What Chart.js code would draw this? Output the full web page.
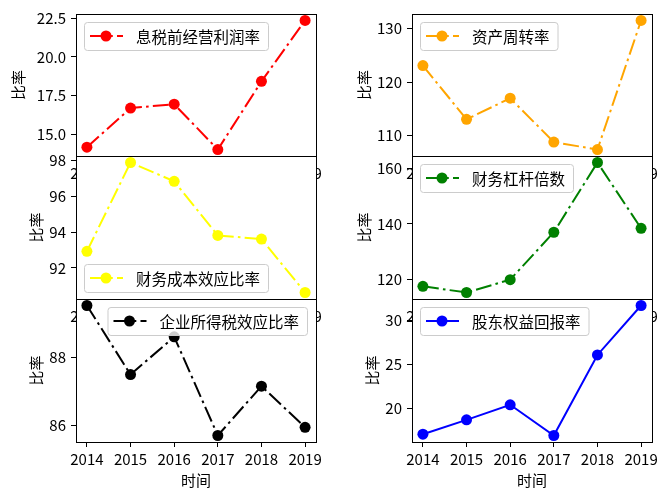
<!DOCTYPE html>
<html>
<head>
<meta charset="utf-8">
<script src="https://cdn.jsdelivr.net/npm/chart.js@4/dist/chart.umd.min.js"></script>
<style>
html,body{margin:0;padding:0;background:#fff;width:669px;height:500px;overflow:hidden}
canvas{position:absolute;left:0;top:0}
</style>
</head>
<body>
<canvas id="c0" width="669" height="500"></canvas>
<canvas id="c1" width="669" height="500"></canvas>
<canvas id="c2" width="669" height="500"></canvas>
<canvas id="c3" width="669" height="500"></canvas>
<canvas id="c4" width="669" height="500"></canvas>
<canvas id="c5" width="669" height="500"></canvas>
<script>
// ---- data ----
const years = [2014, 2015, 2016, 2017, 2018, 2019];
const ebitMargin        = [14.19, 16.71, 16.96, 14.04, 18.43, 22.35];
const assetTurnover     = [123.1, 113.05, 117.0, 108.8, 107.4, 131.55];
const financeCostEffect = [92.92, 97.89, 96.84, 93.81, 93.61, 90.62];
const leverage          = [117.6, 115.4, 120.0, 137.0, 162.0, 138.4];
const taxEffect         = [89.52, 87.49, 88.60, 85.70, 87.15, 85.94];
const roe               = [17.02, 18.66, 20.38, 16.87, 26.07, 31.72];

const seriesNames = ['息税前经营利润率', '资产周转率', '财务成本效应比率', '财务杠杆倍数', '企业所得税效应比率', '股东权益回报率'];
const ticksEbit     = [15.0, 17.5, 20.0, 22.5];
const ticksTurnover = [110, 120, 130];
const ticksFinance  = [92, 94, 96, 98];
const ticksLeverage = [120, 140, 160];
const ticksTax      = [86, 88];
const ticksRoe      = [20, 25, 30];
const yTitle = '比率';
const xTitle = '时间';

// ---- styles / layout ----
const FONT = "'Noto Sans CJK SC', 'Noto Sans', sans-serif";
const DASHDOT = [16, 4.2, 2.6, 4.2];
const W = 669, H = 500;
const panels = [
  {id:'c0', name:seriesNames[0], values:ebitMargin, color:'#ff0000', dash:DASHDOT, ticks:ticksEbit, dec:1, area:[76,316,13,156], yTitleX:18, legend:'ul', xTitle:false},
  {id:'c1', name:seriesNames[1], values:assetTurnover, color:'#ffa500', dash:DASHDOT, ticks:ticksTurnover, dec:0, area:[412,652,13,156], yTitleX:364, legend:'ul', xTitle:false},
  {id:'c2', name:seriesNames[2], values:financeCostEffect, color:'#ffff00', dash:DASHDOT, ticks:ticksFinance, dec:0, area:[76,316,156,299], yTitleX:36, legend:'ll', xTitle:false},
  {id:'c3', name:seriesNames[3], values:leverage, color:'#008000', dash:DASHDOT, ticks:ticksLeverage, dec:0, area:[412,652,156,299], yTitleX:364, legend:'ul', xTitle:false},
  {id:'c4', name:seriesNames[4], values:taxEffect, color:'#000000', dash:DASHDOT, ticks:ticksTax, dec:0, area:[76,316,299,442], yTitleX:36, legend:'ur', xTitle:true},
  {id:'c5', name:seriesNames[5], values:roe, color:'#0000ff', dash:[], ticks:ticksRoe, dec:0, area:[412,652,299,442], yTitleX:372, legend:'ul', xTitle:true},
];

function roundRectPath(ctx, x, y, w, h, r) {
  ctx.beginPath();
  ctx.moveTo(x + r, y);
  ctx.lineTo(x + w - r, y);
  ctx.arcTo(x + w, y, x + w, y + r, r);
  ctx.lineTo(x + w, y + h - r);
  ctx.arcTo(x + w, y + h, x + w - r, y + h, r);
  ctx.lineTo(x + r, y + h);
  ctx.arcTo(x, y + h, x, y + h - r, r);
  ctx.lineTo(x, y + r);
  ctx.arcTo(x, y, x + r, y, r);
  ctx.closePath();
}

const axesPlugin = {
  id: 'axesBox',
  beforeDraw(chart) {
    const a = chart.chartArea, ctx = chart.ctx;
    ctx.save();
    ctx.fillStyle = '#ffffff';
    ctx.fillRect(a.left, a.top, a.right - a.left, a.bottom - a.top);
    ctx.restore();
  },
  afterDatasetsDraw(chart) {
    const a = chart.chartArea, ctx = chart.ctx;
    ctx.save();
    ctx.strokeStyle = '#000';
    ctx.lineWidth = 1;
    ctx.strokeRect(Math.round(a.left) + 0.5, Math.round(a.top) + 0.5, Math.round(a.right - a.left), Math.round(a.bottom - a.top));
    ctx.restore();
  },
  afterDraw(chart) {
    const opts = chart.options.plugins.axesBox;
    const ds = chart.data.datasets[0];
    const a = chart.chartArea, ctx = chart.ctx;
    ctx.save();
    ctx.font = '15.5px ' + FONT;
    const tw = ctx.measureText(ds.label).width;
    const bw = 52 + tw + 8, bh = 28;
    let bx, by;
    if (opts.legend === 'ul') { bx = a.left + 8; by = a.top + 8; }
    else if (opts.legend === 'll') { bx = a.left + 8; by = a.bottom - 7 - bh; }
    else { bx = a.right - 9 - bw; by = a.top + 8; }
    roundRectPath(ctx, bx + 0.5, by + 0.5, bw, bh, 3);
    ctx.fillStyle = 'rgba(255,255,255,0.8)';
    ctx.fill();
    ctx.strokeStyle = '#cccccc';
    ctx.lineWidth = 1;
    ctx.stroke();
    const cy = by + bh / 2;
    ctx.strokeStyle = ds.borderColor;
    ctx.lineWidth = 2;
    ctx.setLineDash(ds.borderDash || []);
    ctx.beginPath();
    ctx.moveTo(bx + 6, cy);
    ctx.lineTo(bx + 39, cy);
    ctx.stroke();
    ctx.setLineDash([]);
    ctx.fillStyle = ds.borderColor;
    ctx.beginPath();
    ctx.arc(bx + 22, cy, 5.5, 0, Math.PI * 2);
    ctx.fill();
    ctx.fillStyle = '#000';
    ctx.textBaseline = 'middle';
    ctx.textAlign = 'left';
    ctx.fillText(ds.label, bx + 52, cy + 1);
    ctx.restore();
  }
};

function build() {
  Chart.defaults.font.family = FONT;
  Chart.defaults.font.size = 15;
  Chart.defaults.color = '#000';
  panels.forEach(p => {
    const [l, r, t, b] = p.area;
    const yW = l - (p.yTitleX - 9);
    const xH = p.xTitle ? 47 : 30;
    const dmin = Math.min(...p.values), dmax = Math.max(...p.values);
    const span = dmax - dmin;
    new Chart(document.getElementById(p.id), {
      type: 'line',
      data: {
        datasets: [{
          label: p.name,
          data: years.map((yr, i) => ({x: yr, y: p.values[i]})),
          borderColor: p.color,
          backgroundColor: p.color,
          borderWidth: 2,
          borderDash: p.dash,
          pointRadius: 5.5,
          pointHoverRadius: 5.5,
          pointBackgroundColor: p.color,
          pointBorderColor: p.color,
          pointBorderWidth: 0,
          tension: 0,
          fill: false,
          clip: false
        }]
      },
      options: {
        responsive: false,
        animation: false,
        devicePixelRatio: 1,
        events: [],
        layout: {padding: {left: l - yW, right: W - r, top: t, bottom: H - b - xH}},
        plugins: {legend: {display: false}, tooltip: {enabled: false}, axesBox: {legend: p.legend}},
        scales: {
          x: {
            type: 'linear',
            min: years[0] - 0.25,
            max: years[years.length - 1] + 0.25,
            afterBuildTicks: s => { s.ticks = years.map(v => ({value: v})); },
            afterFit: s => { s.height = xH; },
            ticks: {padding: 3, maxRotation: 0, autoSkip: false, callback: v => String(v), font: {size: 15}},
            grid: {drawOnChartArea: false, drawTicks: true, tickLength: 5, color: '#000', tickWidth: 1},
            border: {display: false},
            title: {display: p.xTitle, text: xTitle, padding: 0, font: {size: 15, lineHeight: 1.2}}
          },
          y: {
            type: 'linear',
            min: dmin - 0.05 * span,
            max: dmax + 0.05 * span,
            afterBuildTicks: s => { s.ticks = p.ticks.map(v => ({value: v})); },
            afterFit: s => { s.width = yW; },
            ticks: {padding: 5, callback: v => Number(v).toFixed(p.dec), font: {size: 15}},
            grid: {drawOnChartArea: false, drawTicks: true, tickLength: 5, color: '#000', tickWidth: 1},
            border: {display: false},
            title: {display: true, text: yTitle, padding: 0, font: {size: 15, lineHeight: 1.2}}
          }
        }
      },
      plugins: [axesPlugin]
    });
  });
}

if (document.fonts && document.fonts.load) {
  Promise.all([
    document.fonts.load("15px 'Noto Sans CJK SC'", '比率时间2014'),
  ]).then(build, build);
} else {
  build();
}
</script>
</body>
</html>
